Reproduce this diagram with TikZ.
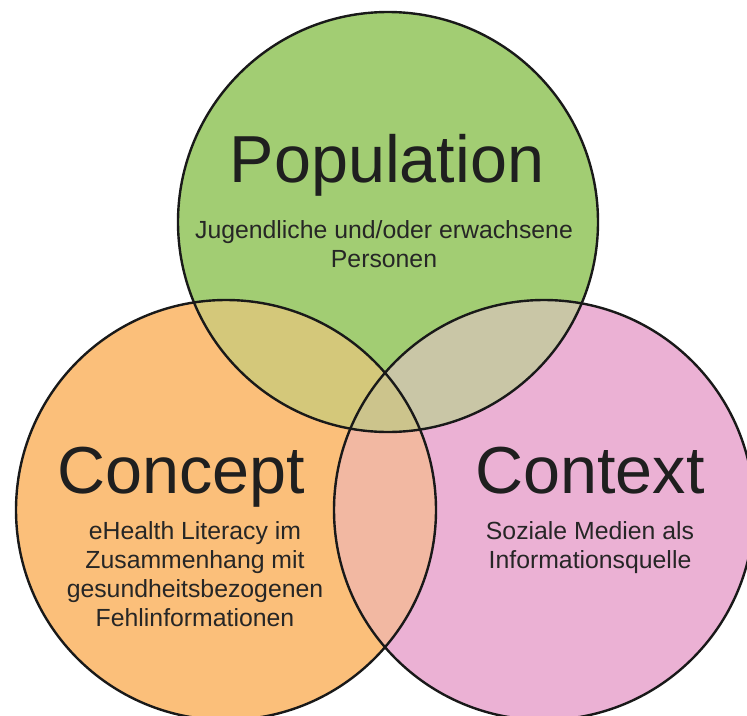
\documentclass[tikz,border=0pt]{standalone}
\usepackage{fontspec}
\setmainfont{Liberation Sans}
\definecolor{popgreen}{HTML}{A2CD73}
\definecolor{conorange}{HTML}{FBBF7A}
\definecolor{ctxpink}{HTML}{EBB1D4}
\definecolor{gomix}{HTML}{D4C87A}
\definecolor{gpmix}{HTML}{C9C6A6}
\definecolor{opmix}{HTML}{F2B8A2}
\definecolor{allmix}{HTML}{CCC48C}
\begin{document}
\begin{tikzpicture}[x=1pt,y=-1pt,
  ring/.style={draw=black!90,line width=2.4pt},
  heading/.style={anchor=base,inner sep=0pt,font=\fontsize{66.5}{70}\selectfont,text=black!88},
  detail/.style={anchor=base,inner sep=0pt,align=center,font=\fontsize{24.8}{28.7}\selectfont,text=black!85}]
  \useasboundingbox (0,0) rectangle (747,715);
  \clip (0,0) rectangle (747,715);
  \fill[white] (0,0) rectangle (747,715);
  % circle centres and radius
  \def\rad{210}
  \coordinate (cp) at (388,222);
  \coordinate (cc) at (226,510);
  \coordinate (cx) at (544,510);
  % plain fills
  \fill[popgreen] (cp) circle (\rad);
  \fill[conorange] (cc) circle (\rad);
  \fill[ctxpink] (cx) circle (\rad);
  % pairwise overlaps
  \begin{scope}
    \clip (cp) circle (\rad);
    \fill[gomix] (cc) circle (\rad);
    \fill[gpmix] (cx) circle (\rad);
  \end{scope}
  \begin{scope}
    \clip (cc) circle (\rad);
    \fill[opmix] (cx) circle (\rad);
  \end{scope}
  % centre region
  \begin{scope}
    \clip (cp) circle (\rad);
    \clip (cc) circle (\rad);
    \fill[allmix] (cx) circle (\rad);
  \end{scope}
  % outlines
  \draw[ring] (cp) circle (\rad);
  \draw[ring] (cc) circle (\rad);
  \draw[ring] (cx) circle (\rad);
  % labels (multi-line nodes are anchored at their last baseline)
  \node[heading] (poptitle) at (387,182) {Population};
  \node[detail] (poptext) at (384,267) {Jugendliche und/oder erwachsene\\Personen};
  \node[heading] (contitle) at (181,493) {Concept};
  \node[detail] (context) at (195,626) {eHealth Literacy im\\Zusammenhang mit\\gesundheitsbezogenen\\Fehlinformationen};
  \node[heading] (ctxtitle) at (590,493) {Context};
  \node[detail] (ctxtext) at (590,568) {Soziale Medien als\\Informationsquelle};
\end{tikzpicture}
\end{document}
